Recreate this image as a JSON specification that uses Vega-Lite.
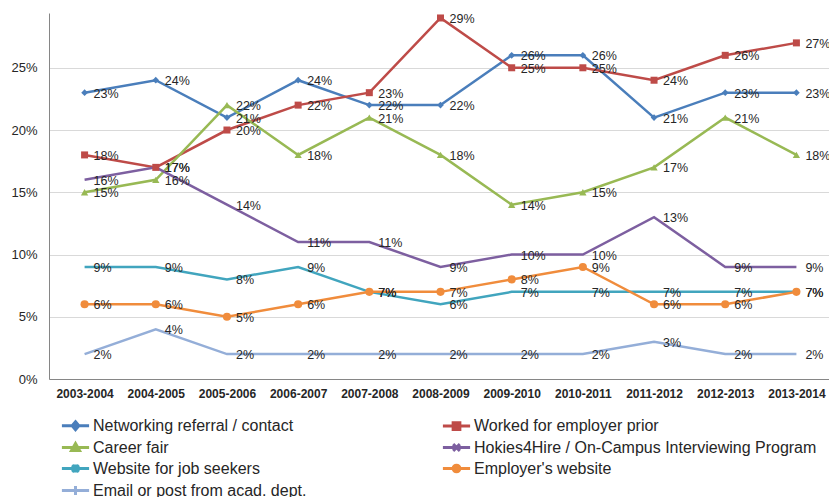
{
  "$schema": "https://vega.github.io/schema/vega-lite/v6.json",
  "autosize": {"type": "none"},
  "padding": {"left": 49, "top": 13, "right": 0, "bottom": 118},
  "width": 783,
  "height": 366,
  "background": "white",
  "config": {
    "font": "Liberation Sans",
    "view": {"stroke": null},
    "axis": {"labelFont": "Liberation Sans", "labelColor": "#262626"}
  },
  "data": {
    "values": [
      {"series": "Networking referral / contact", "year": "2003-2004", "value": 0.23},
      {"series": "Networking referral / contact", "year": "2004-2005", "value": 0.24},
      {"series": "Networking referral / contact", "year": "2005-2006", "value": 0.21},
      {"series": "Networking referral / contact", "year": "2006-2007", "value": 0.24},
      {"series": "Networking referral / contact", "year": "2007-2008", "value": 0.22},
      {"series": "Networking referral / contact", "year": "2008-2009", "value": 0.22},
      {"series": "Networking referral / contact", "year": "2009-2010", "value": 0.26},
      {"series": "Networking referral / contact", "year": "2010-2011", "value": 0.26},
      {"series": "Networking referral / contact", "year": "2011-2012", "value": 0.21},
      {"series": "Networking referral / contact", "year": "2012-2013", "value": 0.23},
      {"series": "Networking referral / contact", "year": "2013-2014", "value": 0.23},
      {"series": "Worked for employer prior", "year": "2003-2004", "value": 0.18},
      {"series": "Worked for employer prior", "year": "2004-2005", "value": 0.17},
      {"series": "Worked for employer prior", "year": "2005-2006", "value": 0.20},
      {"series": "Worked for employer prior", "year": "2006-2007", "value": 0.22},
      {"series": "Worked for employer prior", "year": "2007-2008", "value": 0.23},
      {"series": "Worked for employer prior", "year": "2008-2009", "value": 0.29},
      {"series": "Worked for employer prior", "year": "2009-2010", "value": 0.25},
      {"series": "Worked for employer prior", "year": "2010-2011", "value": 0.25},
      {"series": "Worked for employer prior", "year": "2011-2012", "value": 0.24},
      {"series": "Worked for employer prior", "year": "2012-2013", "value": 0.26},
      {"series": "Worked for employer prior", "year": "2013-2014", "value": 0.27},
      {"series": "Career fair", "year": "2003-2004", "value": 0.15},
      {"series": "Career fair", "year": "2004-2005", "value": 0.16},
      {"series": "Career fair", "year": "2005-2006", "value": 0.22},
      {"series": "Career fair", "year": "2006-2007", "value": 0.18},
      {"series": "Career fair", "year": "2007-2008", "value": 0.21},
      {"series": "Career fair", "year": "2008-2009", "value": 0.18},
      {"series": "Career fair", "year": "2009-2010", "value": 0.14},
      {"series": "Career fair", "year": "2010-2011", "value": 0.15},
      {"series": "Career fair", "year": "2011-2012", "value": 0.17},
      {"series": "Career fair", "year": "2012-2013", "value": 0.21},
      {"series": "Career fair", "year": "2013-2014", "value": 0.18},
      {"series": "Hokies4Hire / On-Campus Interviewing Program", "year": "2003-2004", "value": 0.16},
      {"series": "Hokies4Hire / On-Campus Interviewing Program", "year": "2004-2005", "value": 0.17},
      {"series": "Hokies4Hire / On-Campus Interviewing Program", "year": "2005-2006", "value": 0.14},
      {"series": "Hokies4Hire / On-Campus Interviewing Program", "year": "2006-2007", "value": 0.11},
      {"series": "Hokies4Hire / On-Campus Interviewing Program", "year": "2007-2008", "value": 0.11},
      {"series": "Hokies4Hire / On-Campus Interviewing Program", "year": "2008-2009", "value": 0.09},
      {"series": "Hokies4Hire / On-Campus Interviewing Program", "year": "2009-2010", "value": 0.10},
      {"series": "Hokies4Hire / On-Campus Interviewing Program", "year": "2010-2011", "value": 0.10},
      {"series": "Hokies4Hire / On-Campus Interviewing Program", "year": "2011-2012", "value": 0.13},
      {"series": "Hokies4Hire / On-Campus Interviewing Program", "year": "2012-2013", "value": 0.09},
      {"series": "Hokies4Hire / On-Campus Interviewing Program", "year": "2013-2014", "value": 0.09},
      {"series": "Website for job seekers", "year": "2003-2004", "value": 0.09},
      {"series": "Website for job seekers", "year": "2004-2005", "value": 0.09},
      {"series": "Website for job seekers", "year": "2005-2006", "value": 0.08},
      {"series": "Website for job seekers", "year": "2006-2007", "value": 0.09},
      {"series": "Website for job seekers", "year": "2007-2008", "value": 0.07},
      {"series": "Website for job seekers", "year": "2008-2009", "value": 0.06},
      {"series": "Website for job seekers", "year": "2009-2010", "value": 0.07},
      {"series": "Website for job seekers", "year": "2010-2011", "value": 0.07},
      {"series": "Website for job seekers", "year": "2011-2012", "value": 0.07},
      {"series": "Website for job seekers", "year": "2012-2013", "value": 0.07},
      {"series": "Website for job seekers", "year": "2013-2014", "value": 0.07},
      {"series": "Employer's website", "year": "2003-2004", "value": 0.06},
      {"series": "Employer's website", "year": "2004-2005", "value": 0.06},
      {"series": "Employer's website", "year": "2005-2006", "value": 0.05},
      {"series": "Employer's website", "year": "2006-2007", "value": 0.06},
      {"series": "Employer's website", "year": "2007-2008", "value": 0.07},
      {"series": "Employer's website", "year": "2008-2009", "value": 0.07},
      {"series": "Employer's website", "year": "2009-2010", "value": 0.08},
      {"series": "Employer's website", "year": "2010-2011", "value": 0.09},
      {"series": "Employer's website", "year": "2011-2012", "value": 0.06},
      {"series": "Employer's website", "year": "2012-2013", "value": 0.06},
      {"series": "Employer's website", "year": "2013-2014", "value": 0.07},
      {"series": "Email or post from acad. dept.", "year": "2003-2004", "value": 0.02},
      {"series": "Email or post from acad. dept.", "year": "2004-2005", "value": 0.04},
      {"series": "Email or post from acad. dept.", "year": "2005-2006", "value": 0.02},
      {"series": "Email or post from acad. dept.", "year": "2006-2007", "value": 0.02},
      {"series": "Email or post from acad. dept.", "year": "2007-2008", "value": 0.02},
      {"series": "Email or post from acad. dept.", "year": "2008-2009", "value": 0.02},
      {"series": "Email or post from acad. dept.", "year": "2009-2010", "value": 0.02},
      {"series": "Email or post from acad. dept.", "year": "2010-2011", "value": 0.02},
      {"series": "Email or post from acad. dept.", "year": "2011-2012", "value": 0.03},
      {"series": "Email or post from acad. dept.", "year": "2012-2013", "value": 0.02},
      {"series": "Email or post from acad. dept.", "year": "2013-2014", "value": 0.02}
    ]
  },
  "encoding": {
    "x": {
      "field": "year", "type": "ordinal", "title": null,
      "scale": {"type": "point", "padding": 0.5},
      "axis": {
        "labelAngle": 0, "ticks": false, "grid": false,
        "domainColor": "#868686", "domainWidth": 1,
        "labelFontSize": 12, "labelFontWeight": "bold", "labelPadding": 9
      }
    },
    "y": {
      "field": "value", "type": "quantitative", "title": null,
      "scale": {"domain": [0, 0.294], "nice": false, "zero": true},
      "axis": {
        "values": [0, 0.05, 0.1, 0.15, 0.2, 0.25], "format": ".0%",
        "ticks": false, "domainColor": "#868686", "domainWidth": 1,
        "gridColor": "#D9D9D9", "gridWidth": 1,
        "labelFontSize": 13, "labelPadding": 12
      }
    }
  },
  "resolve": {"scale": {"color": "independent", "shape": "independent", "size": "independent", "fill": "independent", "stroke": "independent"}},
  "layer": [
    {
      "mark": {"type": "line", "strokeWidth": 2.5},
      "encoding": {
        "color": {
          "field": "series", "type": "nominal", "legend": null,
          "scale": {
            "domain": ["Networking referral / contact", "Worked for employer prior", "Career fair", "Hokies4Hire / On-Campus Interviewing Program", "Website for job seekers", "Employer's website", "Email or post from acad. dept."],
            "range": ["#4A7EBB", "#BE4B48", "#98B954", "#7D5FA0", "#41A5BE", "#F08C3C", "#94AED8"]
          }
        },
        "order": {"field": "year"}
      }
    },
    {
      "mark": {"type": "point", "filled": true, "opacity": 1, "strokeWidth": 1.3},
      "encoding": {
        "color": {
          "field": "series", "type": "nominal", "legend": null,
          "scale": {
            "domain": ["Networking referral / contact", "Worked for employer prior", "Career fair", "Hokies4Hire / On-Campus Interviewing Program", "Website for job seekers", "Employer's website", "Email or post from acad. dept."],
            "range": ["#4A7EBB", "#BE4B48", "#98B954", "#8E78B0", "#41A5BE", "#F08C3C", "#94AED8"]
          }
        },
        "shape": {
          "field": "series", "type": "nominal", "legend": null,
          "scale": {
            "domain": ["Networking referral / contact", "Worked for employer prior", "Career fair", "Hokies4Hire / On-Campus Interviewing Program", "Website for job seekers", "Employer's website", "Email or post from acad. dept."],
            "range": ["diamond", "square", "triangle-up", "M-1,-1L1,1M-1,1L1,-1", "M-1,-1L1,1M-1,1L1,-1M0,-1.2V1.2", "circle", "M-1.2,0H1.2M0,-1.2V1.2"]
          }
        },
        "size": {
          "field": "series", "type": "nominal", "legend": null,
          "scale": {
            "domain": ["Networking referral / contact", "Worked for employer prior", "Career fair", "Hokies4Hire / On-Campus Interviewing Program", "Website for job seekers", "Employer's website", "Email or post from acad. dept."],
            "range": [45, 70, 70, 40, 40, 70, 40]
          }
        }
      }
    },
    {
      "mark": {"type": "text", "align": "left", "baseline": "middle", "dx": 9, "dy": 1, "fontSize": 12.5, "color": "#262626"},
      "encoding": {
        "text": {"field": "value", "type": "quantitative", "format": ".0%"}
      }
    },
    {
      "transform": [{"filter": "false"}],
      "mark": {"type": "point", "filled": true, "opacity": 1, "strokeWidth": 3},
      "encoding": {
        "fill": {
          "field": "series", "type": "nominal",
          "scale": {
            "domain": ["Networking referral / contact", "Worked for employer prior", "Career fair", "Hokies4Hire / On-Campus Interviewing Program", "Website for job seekers", "Employer's website", "Email or post from acad. dept."],
            "range": ["#4A7EBB", "#BE4B48", "#98B954", "#7D5FA0", "#41A5BE", "#F08C3C", "#94AED8"]
          },
          "legend": {
            "orient": "none", "legendX": 17, "legendY": 403, "direction": "horizontal",
            "columns": 2, "columnPadding": 129, "rowPadding": 1, "padding": 0,
            "title": null, "labelFontSize": 16, "labelFont": "Liberation Sans", "labelColor": "#262626",
            "labelLimit": 500, "labelOffset": 8, "symbolSize": 256, "symbolStrokeWidth": 3
          }
        },
        "stroke": {
          "field": "series", "type": "nominal",
          "scale": {
            "domain": ["Networking referral / contact", "Worked for employer prior", "Career fair", "Hokies4Hire / On-Campus Interviewing Program", "Website for job seekers", "Employer's website", "Email or post from acad. dept."],
            "range": ["#4A7EBB", "#BE4B48", "#98B954", "#7D5FA0", "#41A5BE", "#F08C3C", "#94AED8"]
          },
          "legend": {
            "orient": "none", "legendX": 17, "legendY": 403, "direction": "horizontal",
            "columns": 2, "columnPadding": 129, "rowPadding": 1, "padding": 0,
            "title": null, "labelFontSize": 16, "labelFont": "Liberation Sans", "labelColor": "#262626",
            "labelLimit": 500, "labelOffset": 8, "symbolSize": 256, "symbolStrokeWidth": 3
          }
        },
        "shape": {
          "field": "series", "type": "nominal",
          "scale": {
            "domain": ["Networking referral / contact", "Worked for employer prior", "Career fair", "Hokies4Hire / On-Campus Interviewing Program", "Website for job seekers", "Employer's website", "Email or post from acad. dept."],
            "range": [
              "M-1.7,0H1.7M0,-0.5L0.42,0L0,0.5L-0.42,0Z",
              "M-1.7,0H1.7M-0.42,-0.42H0.42V0.42H-0.42Z",
              "M-1.7,0H1.7M0,-0.5L0.5,0.37H-0.5Z",
              "M-1.7,0H1.7M-0.42,-0.42L0.42,0.42M-0.42,0.42L0.42,-0.42",
              "M-1.7,0H1.7M-0.42,-0.42L0.42,0.42M-0.42,0.42L0.42,-0.42M0,-0.5V0.5",
              "M-1.7,0H1.7M0.42,0A0.42,0.42,0,1,1,-0.42,0A0.42,0.42,0,1,1,0.42,0Z",
              "M-1.7,0H1.7M0,-0.55V0.55"
            ]
          },
          "legend": {
            "orient": "none", "legendX": 17, "legendY": 403, "direction": "horizontal",
            "columns": 2, "columnPadding": 129, "rowPadding": 1, "padding": 0,
            "title": null, "labelFontSize": 16, "labelFont": "Liberation Sans", "labelColor": "#262626",
            "labelLimit": 500, "labelOffset": 8, "symbolSize": 256, "symbolStrokeWidth": 3
          }
        }
      }
    }
  ]
}
